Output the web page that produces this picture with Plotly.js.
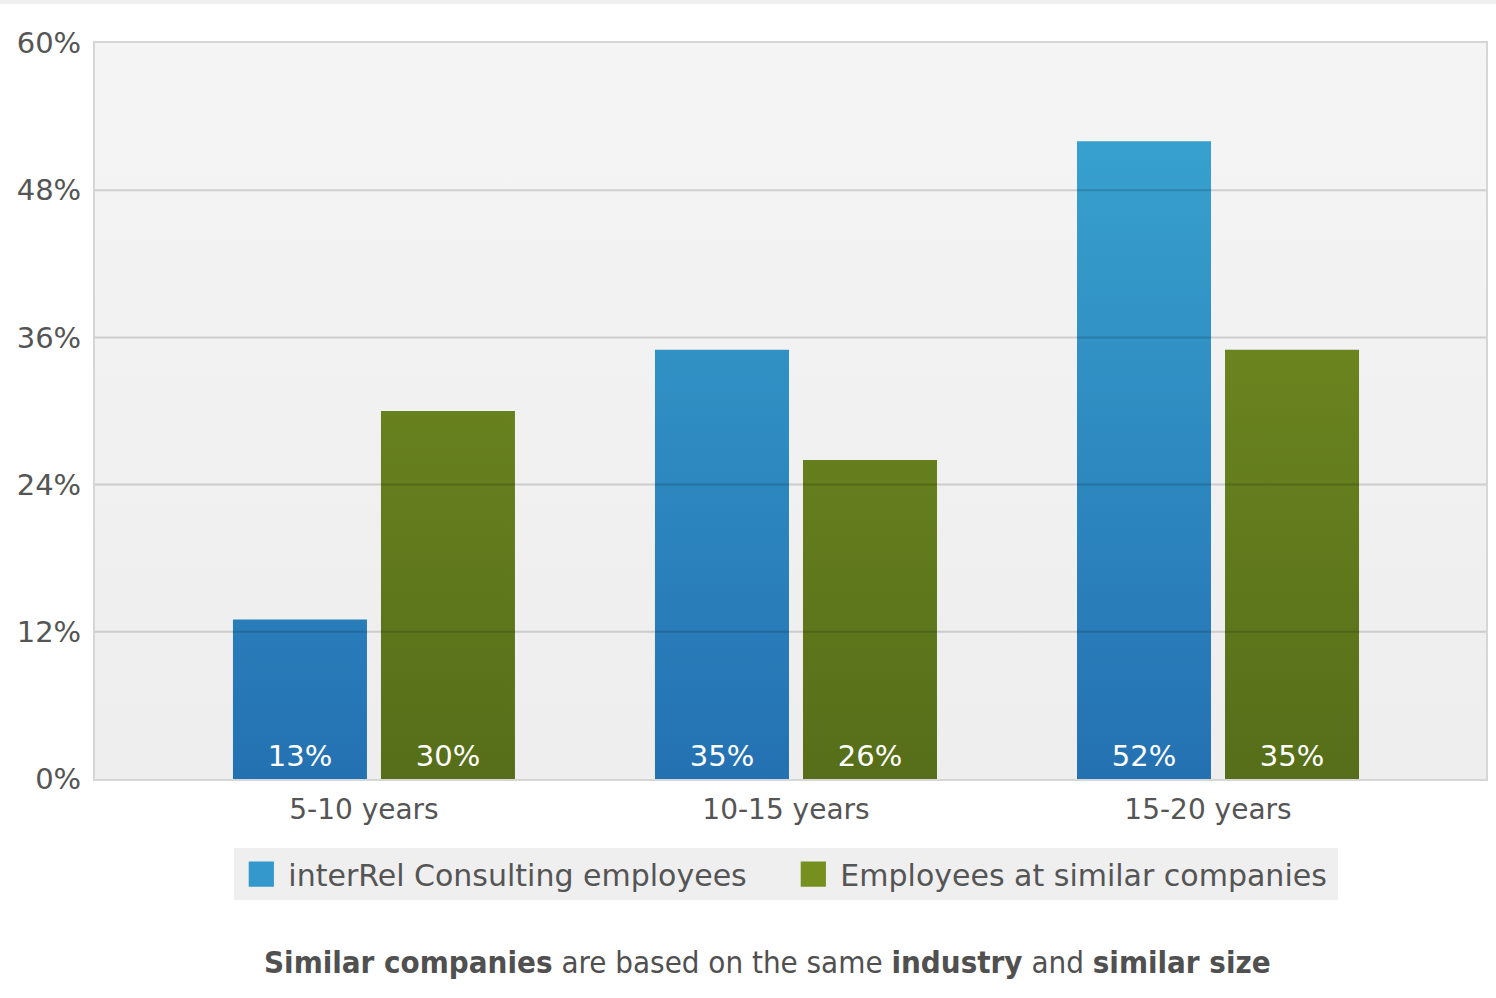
<!DOCTYPE html>
<html>
<head>
<meta charset="utf-8">
<script src="https://cdn.plot.ly/plotly-3.0.1.min.js"></script>
<style>
html,body{margin:0;padding:0;background:#fff;}
#chart{width:1496px;height:998px;}
</style>
</head>
<body>
<div id="chart"></div>
<script>
const categories = ["5-10 years", "10-15 years", "15-20 years"];
const seriesNames = ["interRel Consulting employees", "Employees at similar companies"];
const interRelValues = [13, 35, 52];
const similarValues = [30, 26, 35];
const yTickValues = [0, 12, 24, 36, 48, 60];
const yTickLabels = ["0%", "12%", "24%", "36%", "48%", "60%"];
const footerText = "<b>Similar companies</b> are based on the same <b>industry</b> and <b>similar size</b>";

const FONT = "'DejaVu Sans', Verdana, sans-serif";

const traces = [
  {
    type: "bar",
    name: seriesNames[0],
    x: categories,
    y: interRelValues,
    text: interRelValues.map(v => v + "%"),
    textposition: "inside",
    insidetextanchor: "start",
    textangle: 0,
    textfont: {color: "#ffffff", size: 29, family: FONT},
    marker: {color: "#3598cd", line: {width: 0}},
    hoverinfo: "none"
  },
  {
    type: "bar",
    name: seriesNames[1],
    x: categories,
    y: similarValues,
    text: similarValues.map(v => v + "%"),
    textposition: "inside",
    insidetextanchor: "start",
    textangle: 0,
    textfont: {color: "#ffffff", size: 29, family: FONT},
    marker: {color: "#76901f", line: {width: 0}},
    hoverinfo: "none"
  }
];

const gridShapes = yTickValues.filter(v => v > 0 && v < 60).map(v => ({
  type: "line", xref: "paper", yref: "y", x0: 0, x1: 1, y0: v, y1: v,
  line: {color: "rgba(0,0,0,0.15)", width: 2}, layer: "above"
}));

const layout = {
  width: 1496,
  height: 998,
  margin: {l: 95, r: 10, t: 43, b: 219},
  paper_bgcolor: "#ffffff",
  plot_bgcolor: "#f3f3f3",
  font: {family: FONT, color: "#555555", size: 28},
  barmode: "group",
  bargap: 0.2986,
  bargroupgap: 0.0946,
  showlegend: true,
  legend: {
    orientation: "h",
    x: 0.497, xanchor: "center",
    y: -0.094, yanchor: "top",
    bgcolor: "#efefef",
    font: {size: 30, color: "#555555", family: FONT},
    itemwidth: 44,
    entrywidth: 493,
    traceorder: "normal"
  },
  xaxis: {
    type: "category",
    range: [-0.661, 2.635],
    showgrid: false,
    showline: true,
    linecolor: "#d6d6d6",
    linewidth: 2,
    mirror: true,
    ticks: "",
    ticklabelshift: -10,
    ticklabelstandoff: 4,
    tickfont: {size: 28, color: "#555555"},
    fixedrange: true
  },
  yaxis: {
    range: [0, 60],
    tickvals: yTickValues,
    ticktext: yTickLabels,
    showgrid: false,
    zeroline: false,
    showline: true,
    linecolor: "#d6d6d6",
    linewidth: 2,
    mirror: true,
    ticks: "",
    ticklabelstandoff: 6,
    tickfont: {size: 29, color: "#555555"},
    fixedrange: true
  },
  shapes: [
    {type: "rect", xref: "paper", yref: "paper", x0: -0.07, x1: 1.01, y0: 1.053, y1: 1.07,
     fillcolor: "#f0f0f0", line: {width: 0}, layer: "below"}
  ].concat(gridShapes),
  annotations: [
    {
      text: footerText,
      xref: "paper", yref: "paper",
      x: (767 - 95) / 1391, y: -(962 - 779) / 736,
      xanchor: "center", yanchor: "middle",
      showarrow: false,
      font: {size: 31, color: "#505050", family: "'DejaVu Sans Condensed', " + FONT}
    }
  ]
};

Plotly.newPlot("chart", traces, layout, {displayModeBar: false, staticPlot: true}).then(gd => {
  const svg = gd.querySelector(".main-svg");
  const ns = "http://www.w3.org/2000/svg";
  const h = gd._fullLayout._size.h;
  let defs = svg.querySelector("defs");
  if (!defs) { defs = document.createElementNS(ns, "defs"); svg.insertBefore(defs, svg.firstChild); }
  function addGrad(id, top, bottom) {
    const g = document.createElementNS(ns, "linearGradient");
    g.setAttribute("id", id);
    g.setAttribute("gradientUnits", "userSpaceOnUse");
    g.setAttribute("x1", "0"); g.setAttribute("x2", "0");
    g.setAttribute("y1", "0"); g.setAttribute("y2", String(h));
    [[0, top], [1, bottom]].forEach(([o, c]) => {
      const s = document.createElementNS(ns, "stop");
      s.setAttribute("offset", String(o));
      s.setAttribute("stop-color", c);
      g.appendChild(s);
    });
    defs.appendChild(g);
  }
  addGrad("gradBlue", "#3aa8d2", "#2471b2");
  addGrad("gradGreen", "#7a9424", "#566e19");
  addGrad("gradBg", "#f5f5f5", "#eeeeee");
  const traceGroups = gd.querySelectorAll(".barlayer .trace");
  traceGroups.forEach((tg, i) => {
    tg.querySelectorAll(".point path").forEach(p => {
      p.style.fill = i === 0 ? "url(#gradBlue)" : "url(#gradGreen)";
    });
    tg.querySelectorAll(".point text").forEach(t => {
      const tr = t.getAttribute("transform") || "";
      t.setAttribute("transform", "translate(0,-3) " + tr);
    });
  });
  const bg = gd.querySelector(".bglayer .bg");
  if (bg) bg.style.fill = "url(#gradBg)";
  gd.querySelectorAll(".legend .legendpoints path").forEach(p => {
    const tr = p.getAttribute("transform") || "";
    p.setAttribute("transform", tr + " scale(2.1)");
  });
});
</script>
</body>
</html>
